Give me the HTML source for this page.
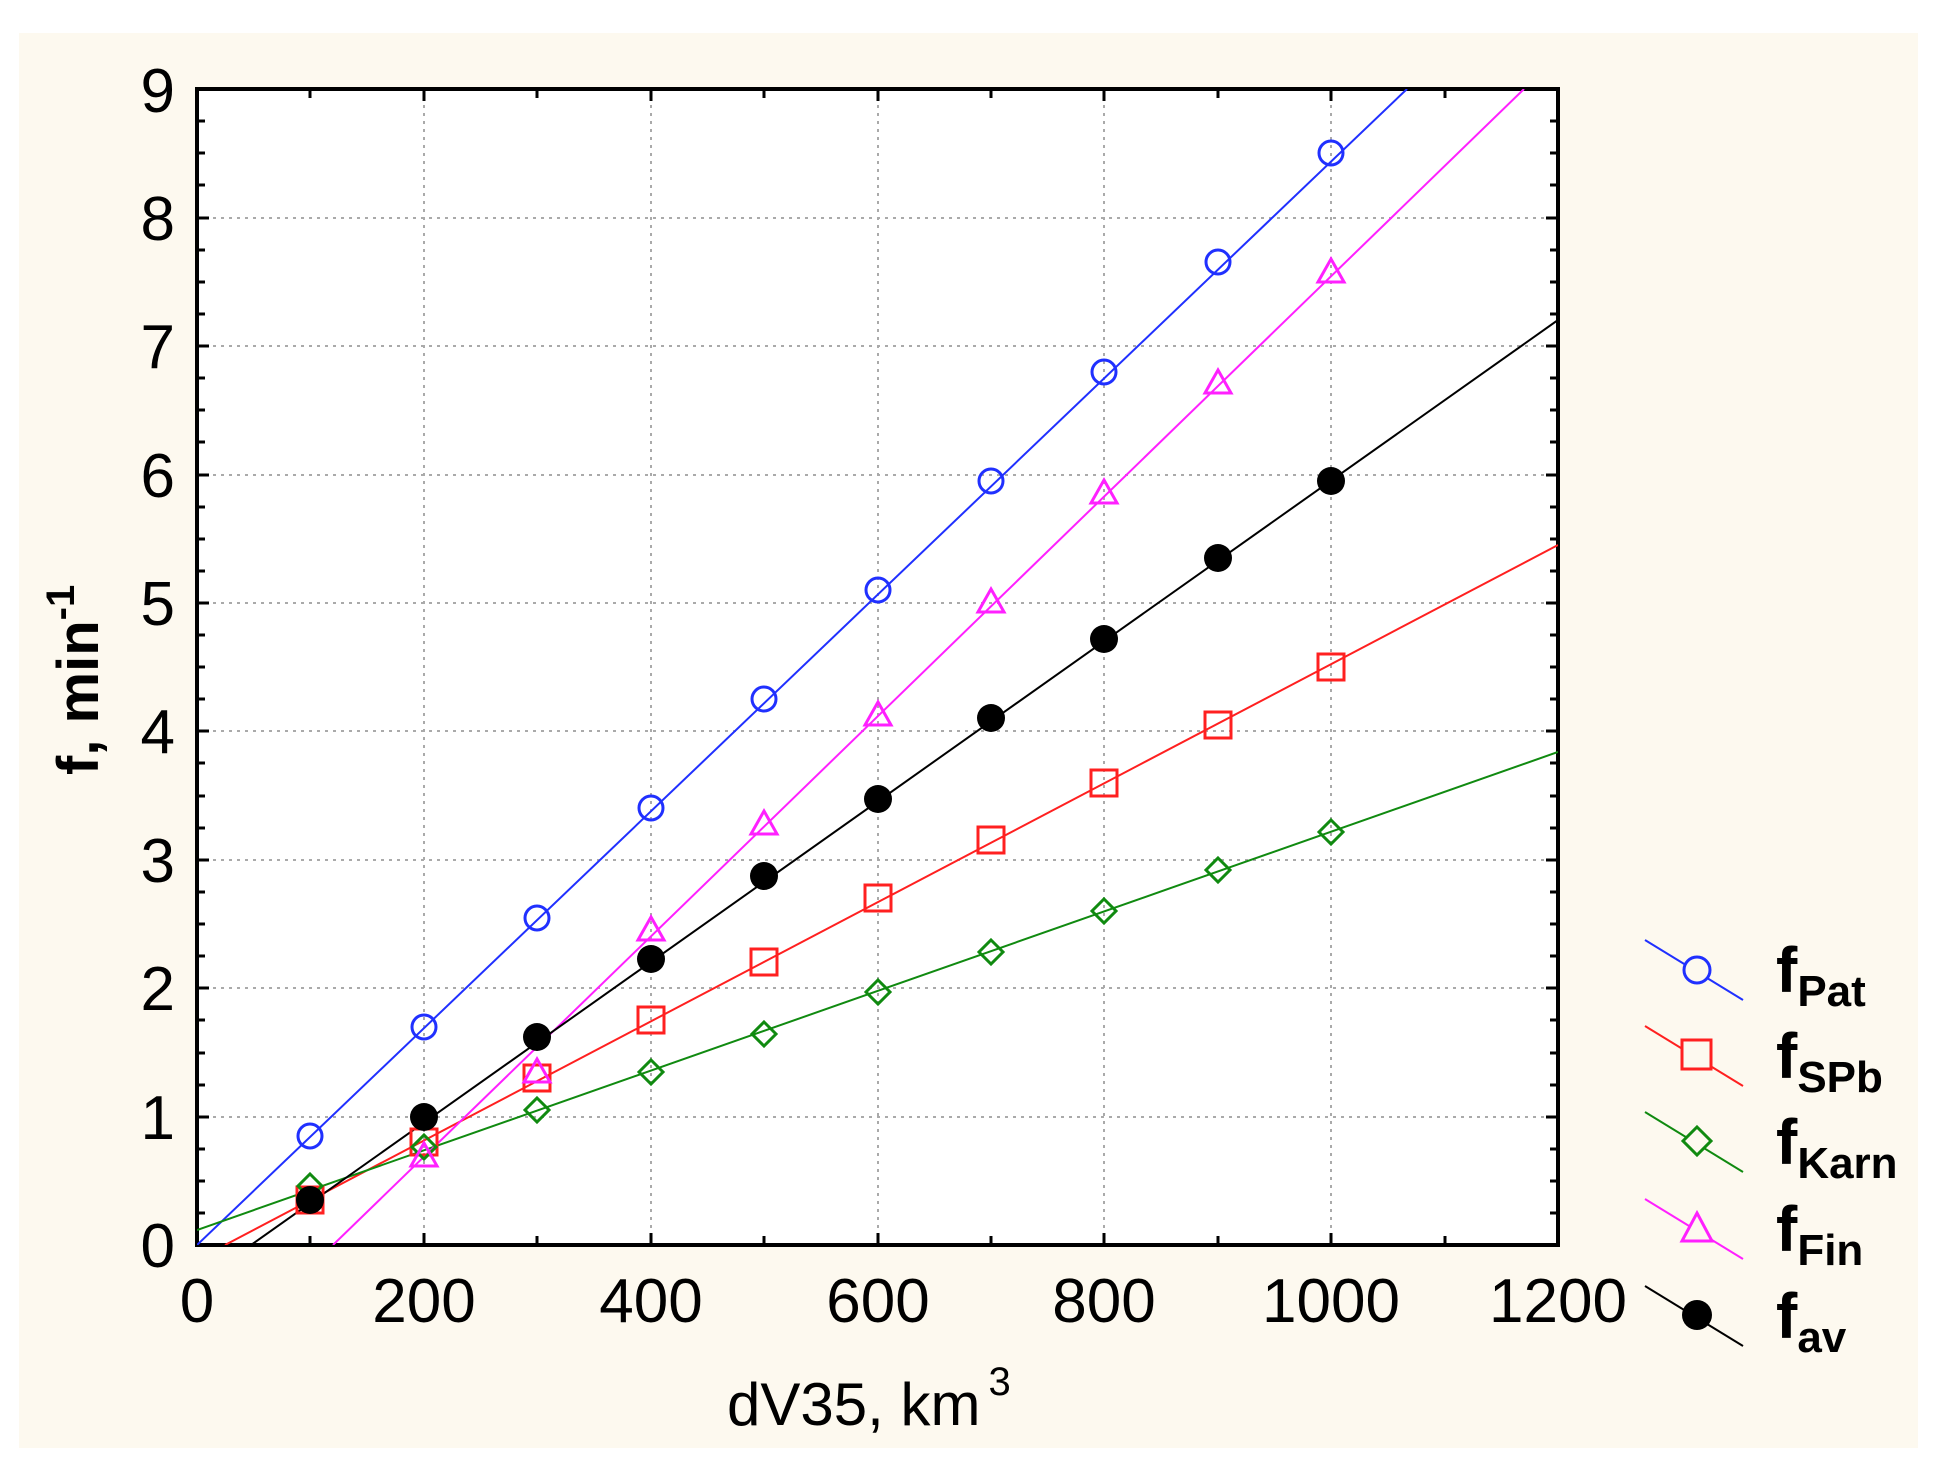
<!DOCTYPE html>
<html><head><meta charset="utf-8"><style>
html,body{margin:0;padding:0;background:#fff;}
svg{display:block;}
text{font-family:"Liberation Sans",Arial,sans-serif;}
</style></head><body>
<svg width="1941" height="1482" viewBox="0 0 1941 1482" xmlns="http://www.w3.org/2000/svg">
<rect x="0" y="0" width="1941" height="1482" fill="#fff"/>
<rect x="19" y="33" width="1899" height="1415" fill="#fdf9ef"/>
<rect x="197" y="89" width="1361" height="1156" fill="#fff"/>
<g stroke="#aaa" stroke-width="2" stroke-dasharray="3,5">
<line x1="424" y1="89" x2="424" y2="1245"/><line x1="651" y1="89" x2="651" y2="1245"/>
<line x1="878" y1="89" x2="878" y2="1245"/><line x1="1104" y1="89" x2="1104" y2="1245"/>
<line x1="1331" y1="89" x2="1331" y2="1245"/>
<line x1="197" y1="218" x2="1558" y2="218"/><line x1="197" y1="346" x2="1558" y2="346"/>
<line x1="197" y1="475" x2="1558" y2="475"/><line x1="197" y1="603" x2="1558" y2="603"/>
<line x1="197" y1="731" x2="1558" y2="731"/><line x1="197" y1="860" x2="1558" y2="860"/>
<line x1="197" y1="988" x2="1558" y2="988"/><line x1="197" y1="1117" x2="1558" y2="1117"/>
</g>
<g stroke="#000" stroke-width="3" id="ticks">
<path d="M197,121h8M197,153h8M197,185h8M197,218h12M197,250h8M197,282h8M197,314h8M197,346h12M197,378h8M197,410h8M197,442h8M197,475h12M197,507h8M197,539h8M197,571h8M197,603h12M197,635h8M197,667h8M197,699h8M197,731h12M197,763h8M197,796h8M197,828h8M197,860h12M197,892h8M197,924h8M197,956h8M197,988h12M197,1020h8M197,1053h8M197,1085h8M197,1117h12M197,1149h8M197,1181h8M197,1213h8"/>
<path d="M1558,121h-8M1558,153h-8M1558,185h-8M1558,218h-12M1558,250h-8M1558,282h-8M1558,314h-8M1558,346h-12M1558,378h-8M1558,410h-8M1558,442h-8M1558,475h-12M1558,507h-8M1558,539h-8M1558,571h-8M1558,603h-12M1558,635h-8M1558,667h-8M1558,699h-8M1558,731h-12M1558,763h-8M1558,796h-8M1558,828h-8M1558,860h-12M1558,892h-8M1558,924h-8M1558,956h-8M1558,988h-12M1558,1020h-8M1558,1053h-8M1558,1085h-8M1558,1117h-12M1558,1149h-8M1558,1181h-8M1558,1213h-8"/>
<path d="M310,1245v-9M424,1245v-12M537,1245v-9M651,1245v-12M764,1245v-9M878,1245v-12M991,1245v-9M1104,1245v-12M1218,1245v-9M1331,1245v-12M1445,1245v-9"/>
<path d="M310,89v9M424,89v12M537,89v9M651,89v12M764,89v9M878,89v12M991,89v9M1104,89v12M1218,89v9M1331,89v12M1445,89v9"/>
</g>
<rect x="197" y="89" width="1361" height="1156" fill="none" stroke="#000" stroke-width="4"/>
<g font-size="62" fill="#000" text-anchor="end">
<text x="175" y="112">9</text><text x="175" y="240">8</text><text x="175" y="368">7</text>
<text x="175" y="497">6</text><text x="175" y="625">5</text><text x="175" y="753">4</text>
<text x="175" y="882">3</text><text x="175" y="1010">2</text><text x="175" y="1139">1</text>
<text x="175" y="1267">0</text>
</g>
<g font-size="62" fill="#000" text-anchor="middle">
<text x="197" y="1322">0</text><text x="424" y="1322">200</text><text x="651" y="1322">400</text>
<text x="878" y="1322">600</text><text x="1104" y="1322">800</text><text x="1331" y="1322">1000</text>
<text x="1558" y="1322">1200</text>
</g>
<text x="727" y="1425" font-size="60">dV35, km<tspan font-size="40" dy="-30" dx="8">3</tspan></text>
<text transform="translate(98,775) rotate(-90)" font-size="58" font-weight="bold">f, min<tspan font-size="40" dy="-24">-1</tspan></text>
<svg x="197" y="89" width="1361" height="1156" overflow="hidden">
<g fill="none" stroke-width="2">
<line x1="0" y1="1156" x2="1210" y2="0" stroke="#2030ff"/>
<line x1="28" y1="1156" x2="1361" y2="456" stroke="#ff2020"/>
<line x1="0" y1="1141" x2="1361" y2="663" stroke="#108a10"/>
<line x1="136" y1="1156" x2="1327" y2="0" stroke="#ff20ff"/>
<line x1="54" y1="1156" x2="1361" y2="231" stroke="#000"/>
</g>
</svg>
<g fill="none" stroke-width="3">
<g stroke="#2030ff">
<circle cx="310" cy="1136" r="12"/><circle cx="424" cy="1027" r="12"/><circle cx="537" cy="918" r="12"/><circle cx="651" cy="808" r="12"/><circle cx="764" cy="699" r="12"/><circle cx="878" cy="590" r="12"/><circle cx="991" cy="481" r="12"/><circle cx="1104" cy="372" r="12"/><circle cx="1218" cy="262" r="12"/><circle cx="1331" cy="153" r="12"/>
</g>
<g stroke="#ff2020">
<rect x="297" y="1187" width="26" height="26"/><rect x="411" y="1129" width="26" height="26"/><rect x="524" y="1065" width="26" height="26"/><rect x="638" y="1007" width="26" height="26"/><rect x="751" y="949" width="26" height="26"/><rect x="865" y="885" width="26" height="26"/><rect x="978" y="827" width="26" height="26"/><rect x="1091" y="770" width="26" height="26"/><rect x="1205" y="712" width="26" height="26"/><rect x="1318" y="654" width="26" height="26"/>
</g>
<g stroke="#108a10">
<path d="M310,1174l12,12l-12,12l-12,-12z M424,1135l12,12l-12,12l-12,-12z M537,1098l12,12l-12,12l-12,-12z M651,1060l12,12l-12,12l-12,-12z M764,1022l12,12l-12,12l-12,-12z M878,980l12,12l-12,12l-12,-12z M991,940l12,12l-12,12l-12,-12z M1104,899l12,12l-12,12l-12,-12z M1218,858l12,12l-12,12l-12,-12z M1331,820l12,12l-12,12l-12,-12z"/>
</g>
<g stroke="#ff20ff">
<path d="M424,1143l13,23h-26z M537,1059l13,23h-26z M651,917l13,23h-26z M764,811l13,23h-26z M878,702l13,23h-26z M991,589l13,23h-26z M1104,480l13,23h-26z M1218,370l13,23h-26z M1331,259l13,23h-26z"/>
</g>
</g>
<g fill="#000">
<circle cx="310" cy="1200" r="14"/><circle cx="424" cy="1117" r="14"/><circle cx="537" cy="1037" r="14"/><circle cx="651" cy="959" r="14"/><circle cx="764" cy="876" r="14"/><circle cx="878" cy="799" r="14"/><circle cx="991" cy="718" r="14"/><circle cx="1104" cy="639" r="14"/><circle cx="1218" cy="558" r="14"/><circle cx="1331" cy="481" r="14"/>
</g>
<g stroke-width="2">
<line x1="1645" y1="940" x2="1743" y2="1000" stroke="#2030ff"/>
<circle cx="1697" cy="970" r="13" fill="#fdf9ef" stroke="#2030ff" stroke-width="3"/>
<line x1="1645" y1="1026" x2="1743" y2="1086" stroke="#ff2020"/>
<rect x="1682" y="1040" width="29" height="29" fill="#fdf9ef" stroke="#ff2020" stroke-width="3"/>
<line x1="1645" y1="1112" x2="1743" y2="1172" stroke="#108a10"/>
<path d="M1697,1127l14,14l-14,14l-14,-14z" fill="#fdf9ef" stroke="#108a10" stroke-width="3"/>
<line x1="1645" y1="1199" x2="1743" y2="1259" stroke="#ff20ff"/>
<path d="M1697,1213l15,28h-30z" fill="#fdf9ef" stroke="#ff20ff" stroke-width="3"/>
<line x1="1645" y1="1286" x2="1743" y2="1346" stroke="#000"/>
<circle cx="1697" cy="1315" r="15" fill="#000"/>
</g>
<g font-weight="bold" fill="#000">
<text x="1776" y="992" font-size="64">f<tspan font-size="44" dy="14">Pat</tspan></text>
<text x="1776" y="1078" font-size="64">f<tspan font-size="44" dy="14">SPb</tspan></text>
<text x="1776" y="1164" font-size="64">f<tspan font-size="44" dy="14">Karn</tspan></text>
<text x="1776" y="1251" font-size="64">f<tspan font-size="44" dy="14">Fin</tspan></text>
<text x="1776" y="1338" font-size="64">f<tspan font-size="44" dy="14">av</tspan></text>
</g>
</svg>
</body></html>
